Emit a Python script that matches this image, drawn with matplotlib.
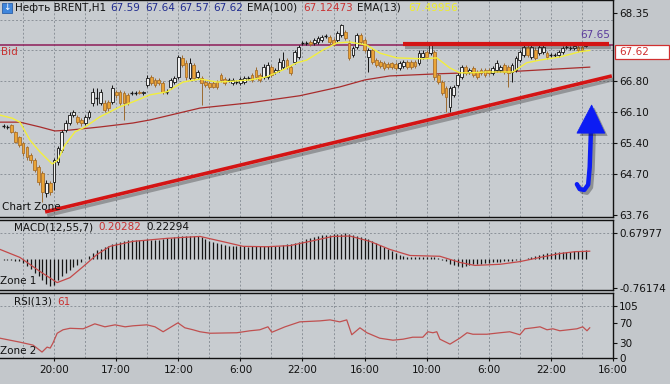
import matplotlib
matplotlib.use('Agg')
import matplotlib.pyplot as plt
import matplotlib.patheffects as pe
from matplotlib.patches import Rectangle, Polygon
import numpy as np

plt.rcParams['font.family'] = ['DejaVu Sans']

# ---------------- data ----------------
opens = [65.79, 65.76, 65.81, 65.65, 65.53, 65.40, 65.31, 65.12, 65.01, 64.85,
         64.71, 64.26, 64.49, 64.51, 64.97, 65.24, 65.69, 65.85, 66.03, 65.99,
         65.92, 65.85, 65.99, 66.31, 66.43, 66.31, 66.31, 66.33, 66.33, 66.56,
         66.56, 66.53, 66.49, 66.53, 66.53, 66.56, 66.53, 66.71, 66.90, 66.83,
         66.83, 66.76, 66.56, 66.67, 66.78, 66.90, 67.33, 67.22, 66.87, 67.17,
         66.90, 66.87, 66.78, 66.76, 66.76, 66.78, 66.94, 66.85, 66.83, 66.76,
         66.78, 66.76, 66.78, 66.87, 66.94, 67.06, 66.94, 66.90, 66.90, 67.12,
         67.01, 67.06, 67.12, 67.28, 67.12, 67.24, 67.35, 67.67, 67.67, 67.69,
         67.67, 67.69, 67.74, 67.83, 67.81, 67.74, 67.74, 67.85, 67.92, 67.67,
         67.40, 67.58, 67.85, 67.74, 67.35, 67.51, 67.28, 67.24, 67.22, 67.19,
         67.22, 67.19, 67.10, 67.15, 67.24, 67.24, 67.24, 67.22, 67.35, 67.47,
         67.44, 67.47, 66.94, 66.78, 66.65, 66.22, 66.49, 66.71, 66.90, 67.12,
         67.01, 67.10, 67.01, 67.06, 67.06, 67.06, 66.99, 67.06, 67.06, 67.17,
         67.12, 67.01, 67.06, 67.28, 67.40, 67.58, 67.35, 67.51, 67.44, 67.47,
         67.44, 67.40, 67.40, 67.40, 67.47, 67.58, 67.56, 67.56, 67.58, 67.58,
         67.60]
closes = [65.78, 65.77, 65.65, 65.42, 65.35, 65.17, 65.08, 65.01, 64.78, 64.51,
          64.28, 64.49, 64.28, 65.01, 65.28, 65.65, 65.85, 66.03, 66.10, 65.87,
          65.85, 65.99, 66.10, 66.56, 66.42, 66.56, 66.15, 66.19, 66.65, 66.49,
          66.31, 66.31, 66.31, 66.52, 66.54, 66.54, 66.55, 66.87, 66.76, 66.71,
          66.76, 66.56, 66.55, 66.83, 66.87, 67.35, 67.17, 66.90, 67.22, 66.87,
          67.01, 66.76, 66.71, 66.67, 66.67, 66.67, 66.83, 66.76, 66.82, 66.83,
          66.79, 66.85, 66.87, 66.88, 66.83, 66.90, 66.83, 67.12, 67.17, 66.94,
          67.06, 67.24, 67.28, 67.12, 66.99, 67.47, 67.58, 67.68, 67.66, 67.65,
          67.74, 67.78, 67.81, 67.82, 67.69, 67.65, 67.90, 68.08, 67.78, 67.33,
          67.56, 67.85, 67.69, 67.51, 67.51, 67.24, 67.17, 67.15, 67.10, 67.12,
          67.12, 67.10, 67.22, 67.24, 67.12, 67.12, 67.15, 67.44, 67.44, 67.35,
          67.62, 66.90, 66.78, 66.53, 66.44, 66.65, 66.67, 66.94, 67.12, 66.99,
          67.06, 66.94, 66.90, 66.99, 66.94, 66.99, 67.10, 67.22, 67.12, 67.01,
          66.99, 67.17, 67.33, 67.47, 67.58, 67.40, 67.58, 67.33, 67.58, 67.58,
          67.35, 67.39, 67.41, 67.47, 67.56, 67.59, 67.57, 67.60, 67.51, 67.51,
          67.62]
highs = [65.83, 65.81, 65.83, 65.67, 65.56, 65.42, 65.33, 65.17, 65.06, 64.90,
         64.76, 64.56, 64.53, 65.06, 65.33, 65.69, 65.92, 66.10, 66.15, 66.03,
         65.96, 66.03, 66.15, 66.65, 66.65, 66.62, 66.37, 66.37, 66.71, 66.60,
         66.60, 66.58, 66.53, 66.58, 66.58, 66.60, 66.58, 66.94, 66.94, 66.87,
         66.87, 66.81, 66.62, 66.87, 66.92, 67.40, 67.40, 67.28, 67.33, 67.22,
         67.06, 66.92, 66.83, 66.81, 66.81, 66.83, 66.99, 66.90, 66.87, 66.87,
         66.83, 66.90, 66.92, 66.92, 66.99, 67.12, 66.99, 67.19, 67.24, 67.17,
         67.10, 67.33, 67.47, 67.33, 67.17, 67.51, 67.62, 67.72, 67.72, 67.74,
         67.78, 67.83, 67.85, 67.87, 67.85, 67.78, 67.94, 68.10, 67.96, 67.74,
         67.60, 67.90, 67.90, 67.78, 67.56, 67.56, 67.33, 67.28, 67.26, 67.24,
         67.24, 67.24, 67.26, 67.28, 67.28, 67.28, 67.28, 67.51, 67.51, 67.51,
         67.67, 67.51, 66.99, 66.83, 66.69, 66.69, 66.71, 66.99, 67.17, 67.17,
         67.10, 67.15, 67.06, 67.10, 67.10, 67.10, 67.15, 67.28, 67.17, 67.22,
         67.17, 67.22, 67.37, 67.51, 67.62, 67.65, 67.65, 67.58, 67.62, 67.62,
         67.49, 67.44, 67.44, 67.51, 67.60, 67.62, 67.60, 67.65, 67.62, 67.62,
         67.67]
lows = [65.74, 65.72, 65.62, 65.40, 65.31, 65.10, 65.01, 64.94, 64.74, 64.44,
        64.06, 64.17, 64.21, 64.33, 64.90, 65.19, 65.65, 65.81, 65.99, 65.83,
        65.78, 65.81, 65.94, 66.24, 66.26, 66.26, 66.10, 66.12, 66.28, 66.42,
        66.26, 65.92, 66.26, 66.49, 66.49, 66.51, 66.49, 66.67, 66.71, 66.67,
        66.71, 66.51, 66.51, 66.62, 66.74, 66.85, 67.12, 66.83, 66.83, 66.83,
        66.85, 66.26, 66.67, 66.62, 66.65, 66.62, 66.78, 66.71, 66.78, 66.71,
        66.74, 66.71, 66.74, 66.83, 66.78, 66.85, 66.78, 66.85, 66.85, 66.90,
        66.97, 67.01, 67.08, 67.08, 66.94, 67.19, 67.31, 67.62, 67.62, 67.60,
        67.62, 67.65, 67.69, 67.78, 67.65, 67.60, 67.69, 67.81, 67.74, 67.28,
        67.35, 67.53, 67.65, 67.47, 67.01, 67.19, 67.12, 67.10, 67.06, 67.08,
        67.08, 67.06, 67.06, 67.10, 67.08, 67.08, 67.10, 67.17, 67.31, 67.31,
        67.40, 66.83, 66.74, 66.49, 66.10, 66.10, 66.44, 66.67, 66.85, 66.94,
        66.97, 66.90, 66.85, 66.94, 66.90, 66.94, 66.94, 67.01, 67.01, 66.97,
        66.67, 66.78, 67.01, 67.24, 67.35, 67.35, 67.31, 67.28, 67.40, 67.42,
        67.31, 67.35, 67.35, 67.35, 67.42, 67.53, 67.51, 67.51, 67.47, 67.47,
        67.58]

ema100_bar = [-0.93, 4.2, 9.4, 13.2, 17.1, 24.8, 33.3, 37.7, 50.6, 63.5, 76.3, 86.6,
              93.1, 99.5, 112.4, 119.4, 133.0, 151.0]
ema100_val = [65.87, 65.87, 65.76, 65.67, 65.69, 65.76, 65.85, 65.92, 66.19, 66.31,
              66.47, 66.67, 66.83, 66.92, 66.97, 66.99, 67.03, 67.12]

ema13_bar = [-0.93, 2.2, 4.2, 6.8, 9.4, 12.5, 14.0, 15.8, 18.4, 21.0, 24.8, 30.0, 33.3,
             37.7, 42.1, 46.2, 50.6, 55.0, 59.1, 63.5, 67.8, 72.0, 75.6, 78.1, 82.3,
             85.9, 89.2, 93.6, 96.9, 101.3, 108.0, 111.6, 115.0, 117.5, 120.1, 124.5,
             131.2, 134.8, 138.2, 143.3, 148.5, 151.0]
ema13_val = [66.03, 65.96, 65.87, 65.46, 65.19, 64.92, 65.01, 65.35, 65.65, 65.76,
             65.99, 66.22, 66.33, 66.49, 66.56, 66.78, 66.85, 66.78, 66.80, 66.83,
             66.90, 67.06, 67.22, 67.28, 67.51, 67.67, 67.69, 67.62, 67.44, 67.33,
             67.31, 67.33, 67.10, 66.99, 66.99, 67.01, 67.01, 67.22, 67.28, 67.35,
             67.47, 67.50]

macd_hist = [-0.03, -0.04, -0.04, -0.05, -0.06, -0.10, -0.18, -0.27, -0.36, -0.45,
             -0.56, -0.66, -0.72, -0.68, -0.56, -0.45, -0.37, -0.30, -0.22, -0.16,
             -0.07, 0.00, 0.08, 0.16, 0.23, 0.27, 0.30, 0.35, 0.39, 0.42,
             0.45, 0.48, 0.50, 0.50, 0.49, 0.50, 0.50, 0.51, 0.50, 0.50,
             0.50, 0.52, 0.54, 0.56, 0.57, 0.59, 0.60, 0.61, 0.61, 0.60,
             0.60, 0.57, 0.52, 0.48, 0.45, 0.42, 0.39, 0.37, 0.35, 0.34,
             0.33, 0.33, 0.33, 0.32, 0.33, 0.33, 0.34, 0.35, 0.35, 0.35,
             0.35, 0.35, 0.36, 0.38, 0.40, 0.43, 0.45, 0.48, 0.52, 0.55,
             0.58, 0.60, 0.62, 0.63, 0.64, 0.65, 0.66, 0.66, 0.67, 0.66,
             0.63, 0.60, 0.57, 0.54, 0.51, 0.46, 0.42, 0.37, 0.32, 0.27,
             0.22, 0.16, 0.11, 0.08, 0.06, 0.05, 0.05, 0.05, 0.05, 0.05,
             0.05, 0.04, 0.02, -0.02, -0.06, -0.12, -0.17, -0.19, -0.20, -0.18,
             -0.16, -0.14, -0.13, -0.12, -0.11, -0.10, -0.09, -0.08, -0.07, -0.06,
             -0.05, -0.05, -0.04, -0.03, -0.01, 0.02, 0.04, 0.08, 0.11, 0.13,
             0.15, 0.16, 0.17, 0.18, 0.18, 0.19, 0.19, 0.20, 0.20, 0.21,
             0.223]

signal_bar = [-0.93, 4.2, 9.4, 13.8, 17.1, 20.5, 24.1, 27.4, 33.3, 42.1, 50.6, 57.5,
              61.7, 67.8, 73.8, 78.9, 84.8, 89.2, 94.4, 99.5, 104.7, 112.4, 117.5,
              121.4, 127.9, 133.0, 138.2, 143.3, 147.2, 151.0]
signal_val = [0.25, 0.04, -0.33, -0.62, -0.49, -0.20, 0.12, 0.33, 0.46, 0.54, 0.59,
              0.43, 0.33, 0.32, 0.35, 0.46, 0.59, 0.60, 0.46, 0.25, 0.09, 0.07, -0.09,
              -0.17, -0.14, -0.07, 0.04, 0.14, 0.19, 0.203]

rsi_bar = [-0.93, 4.2, 7.6, 9.9, 11.2, 12.0, 12.7, 13.8, 15.3, 17.1, 20.5, 23.5, 26.1,
           28.7, 31.3, 33.3, 36.9, 39.0, 41.1, 44.9, 46.7, 48.8, 50.6, 53.2, 60.1,
           63.5, 66.0, 68.1, 69.1, 72.5, 76.3, 81.5, 84.1, 86.6, 88.4, 89.7, 91.8,
           93.6, 96.9, 100.3, 102.9, 105.4, 108.0, 109.3, 110.6, 111.6, 112.4, 115.0,
           117.5, 119.4, 120.9, 124.5, 127.9, 130.4, 133.0, 134.3, 136.4, 138.2,
           140.0, 141.5, 143.3, 147.7, 149.2, 150.3, 151.0]
rsi_val = [40, 32, 26, 12, 22, 20, 30, 50, 57, 60, 59, 69, 63,
           67, 63, 65, 67, 63, 53, 71, 61, 57, 53, 50, 51,
           55, 57, 63, 52, 63, 73, 75, 77, 73, 77, 47, 61,
           51, 40, 36, 38, 42, 42, 53, 51, 53, 38, 28,
           40, 51, 48, 48, 51, 53, 47, 59, 61, 63,
           57, 59, 55, 59, 63, 55, 61]

time_labels = ['20:00', '17:00', '12:00', '6:00', '22:00', '16:00', '10:00', '6:00',
               '22:00', '16:00']
price_ticks = [68.35, 66.80, 66.10, 65.40, 64.70, 63.76]
price_grid = [64.70, 65.40, 66.10, 66.80, 67.50, 68.20]
macd_ticks = [0.67977, -0.76174]
rsi_ticks = [105, 70, 30, 0]

support_bar = [10.7, 156.7]
support_val = [63.83, 66.92]
resist_bar = [102.9, 156.0]
resist_val = [67.65, 67.65]
bid_price = 67.62

arrow_shaft_bar = [147.7, 148.4, 149.6, 150.6, 151.0, 151.3]
arrow_shaft_val = [64.46, 64.35, 64.33, 64.45, 64.85, 65.64]
arrow_head_bar = [147.7, 154.9, 151.5]
arrow_head_val = [65.62, 65.62, 66.26]

# ---------------- figure ----------------
W, H = 670, 384
fig = plt.figure(figsize=(W / 100, H / 100), dpi=100)
fig.patch.set_facecolor('#c3c7cb')
BG = '#c8ccd0'
GRID = '#8c9299'
FS = 7.5


def add_px(x0, y0, x1, y1):
    return fig.add_axes([x0 / W, 1 - y1 / H, (x1 - x0) / W, (y1 - y0) / H])


ax = add_px(0, 0, 613, 217)
axm = add_px(0, 220, 613, 290)
axr = add_px(0, 293, 613, 358)

XMIN, XMAX = -0.93, 157
for a in (ax, axm, axr):
    a.set_facecolor(BG)
    a.set_xlim(XMIN, XMAX)
    a.spines['left'].set_visible(False)
    for s in ('top', 'bottom', 'right'):
        a.spines[s].set_color('#111111')
        a.spines[s].set_linewidth(1.0)
    a.yaxis.tick_right()
    a.tick_params(axis='y', direction='out', length=3, width=0.8,
                  labelsize=FS, pad=1.5, colors='#111111')
    a.set_xticks([])
    for gx in np.arange(5, XMAX, 8):
        a.axvline(gx, color=GRID, lw=0.7, ls=(0, (2, 2)), zorder=0.5)

# ---- price panel ----
o = np.array(opens); c = np.array(closes)
h = np.array(highs); l = np.array(lows)
x = np.arange(len(o))
ax.set_ylim(63.715, 68.645)
ax.set_yticks(price_ticks)
ax.set_yticklabels([f'{v:.2f}' for v in price_ticks])
for gy in price_grid:
    ax.axhline(gy, color=GRID, lw=0.7, ls=(0, (2, 2)), zorder=0.5)

ax.axhline(bid_price, color='#8e1c58', lw=1.1, zorder=2)
ax.plot(ema100_bar, ema100_val, color='#a82c2c', lw=0.9, zorder=2.5)

doji = np.abs(c - o) < 0.015
up = (c > o) & ~doji
dn = (c < o) & ~doji
ax.vlines(x[up | doji], l[up | doji], h[up | doji], color='#151515', lw=0.7, zorder=3)
ax.vlines(x[dn], l[dn], h[dn], color='#9c6a30', lw=0.7, zorder=3)
ax.bar(x[up], (c - o)[up], bottom=o[up], width=0.72, facecolor='#f2f2f2',
       edgecolor='#151515', lw=0.6, zorder=4)
ax.bar(x[dn], (o - c)[dn], bottom=c[dn], width=0.72, facecolor='#eaa437',
       edgecolor='#a8702c', lw=0.6, zorder=4)
ax.hlines(((o + c) / 2)[doji], x[doji] - 0.4, x[doji] + 0.4, color='#151515', lw=1.0, zorder=4)

ax.plot(ema13_bar, ema13_val, color='#f3ef3c', lw=1.0, zorder=5)

shadow = [pe.SimpleLineShadow(offset=(1.5, -2.5), shadow_color='#303030', alpha=0.35),
          pe.Normal()]
ax.plot(resist_bar, resist_val, color='#d41414', lw=3.0, solid_capstyle='butt',
        path_effects=shadow, zorder=6)
ax.plot(support_bar, support_val, color='#d41414', lw=2.6, solid_capstyle='butt',
        path_effects=shadow, zorder=6)

# blue arrow
ax.plot(arrow_shaft_bar, arrow_shaft_val, color='#0c1cf4', lw=3.2,
        solid_capstyle='round', solid_joinstyle='round',
        path_effects=[pe.SimpleLineShadow(offset=(2, -2), shadow_color='#202020', alpha=0.35),
                      pe.Normal()], zorder=7)
head = Polygon(list(zip(arrow_head_bar, arrow_head_val)), closed=True,
               facecolor='#0c1cf4', edgecolor='#0c1cf4', lw=0.5, zorder=7,
               path_effects=[pe.SimplePatchShadow(offset=(2, -2), shadow_rgbFace='#202020', alpha=0.35),
                             pe.Normal()])
ax.add_patch(head)

# ---- MACD panel ----
axm.set_ylim(-0.814, 1.0205)
axm.set_yticks(macd_ticks)
axm.set_yticklabels([f'{v:.5f}' for v in macd_ticks])
axm.axhline(macd_ticks[0], color=GRID, lw=0.7, ls=(0, (2, 2)), zorder=0.5)
xm = np.arange(len(macd_hist))
axm.vlines(xm, 0, macd_hist, color='#151515', lw=0.9, zorder=3)
axm.plot(signal_bar, signal_val, color='#c44848', lw=0.9, zorder=4)

# ---- RSI panel ----
axr.set_ylim(0, 131.3)
axr.set_yticks(rsi_ticks)
axr.set_yticklabels([str(v) for v in rsi_ticks])
axr.axhline(105, color=GRID, lw=0.7, ls=(0, (2, 2)), zorder=0.5)
axr.plot(rsi_bar, rsi_val, color='#c05050', lw=0.9, zorder=3)
axr.set_xticks(np.arange(13, XMAX + 1, 16))
axr.set_xticklabels(time_labels)
axr.tick_params(axis='x', direction='out', length=2, width=0.8, labelsize=FS,
                pad=3, colors='#111111')


# ---------------- texts ----------------
def T(px, py, s, color='#111111', ha='left', size=FS, z=10):
    fig.text(px / W, 1 - py / H, s, color=color, ha=ha, va='center', fontsize=size, zorder=z)


fig.patches.append(Rectangle((2 / W, 1 - 13 / H), 10 / W, 10 / H, transform=fig.transFigure,
                             facecolor='#3f86dc', edgecolor='#2a5fa8', lw=0.6, zorder=9))
T(7, 8, '↓', color='white', ha='center', size=6.5)
T(15, 8, 'Нефть BRENT,H1')
blue = '#1f2b8e'
T(110, 8, '67.59', blue)
T(145, 8, '67.64', blue)
T(179, 8, '67.57', blue)
T(213, 8, '67.62', blue)
T(247, 8, 'EMA(100)')
T(303, 8, '67.12473', '#c83232')
T(357, 8, 'EMA(13)')
T(408, 8, '67.49956', '#f0ee28')

T(1, 52, 'Bid', '#c83232')
T(610, 35, '67.65', '#5b3c9c', ha='right')
fig.patches.append(Rectangle((615 / W, 1 - 59 / H), 54 / W, 14 / H, transform=fig.transFigure,
                             facecolor='white', edgecolor='#d03030', lw=0.9, zorder=9))
T(619, 52, '67.62', '#d03030')

T(2, 207, 'Chart Zone', z=1)
T(14, 227, 'MACD(12,55,7)')
T(98, 227, '0.20282', '#c83232')
T(146, 227, '0.22294')
T(0, 281, 'Zone 1')
T(14, 302, 'RSI(13)')
T(57, 302, '61', '#c83232')
T(0, 351, 'Zone 2')

fig.savefig('out.png', dpi=100, facecolor=fig.get_facecolor())
